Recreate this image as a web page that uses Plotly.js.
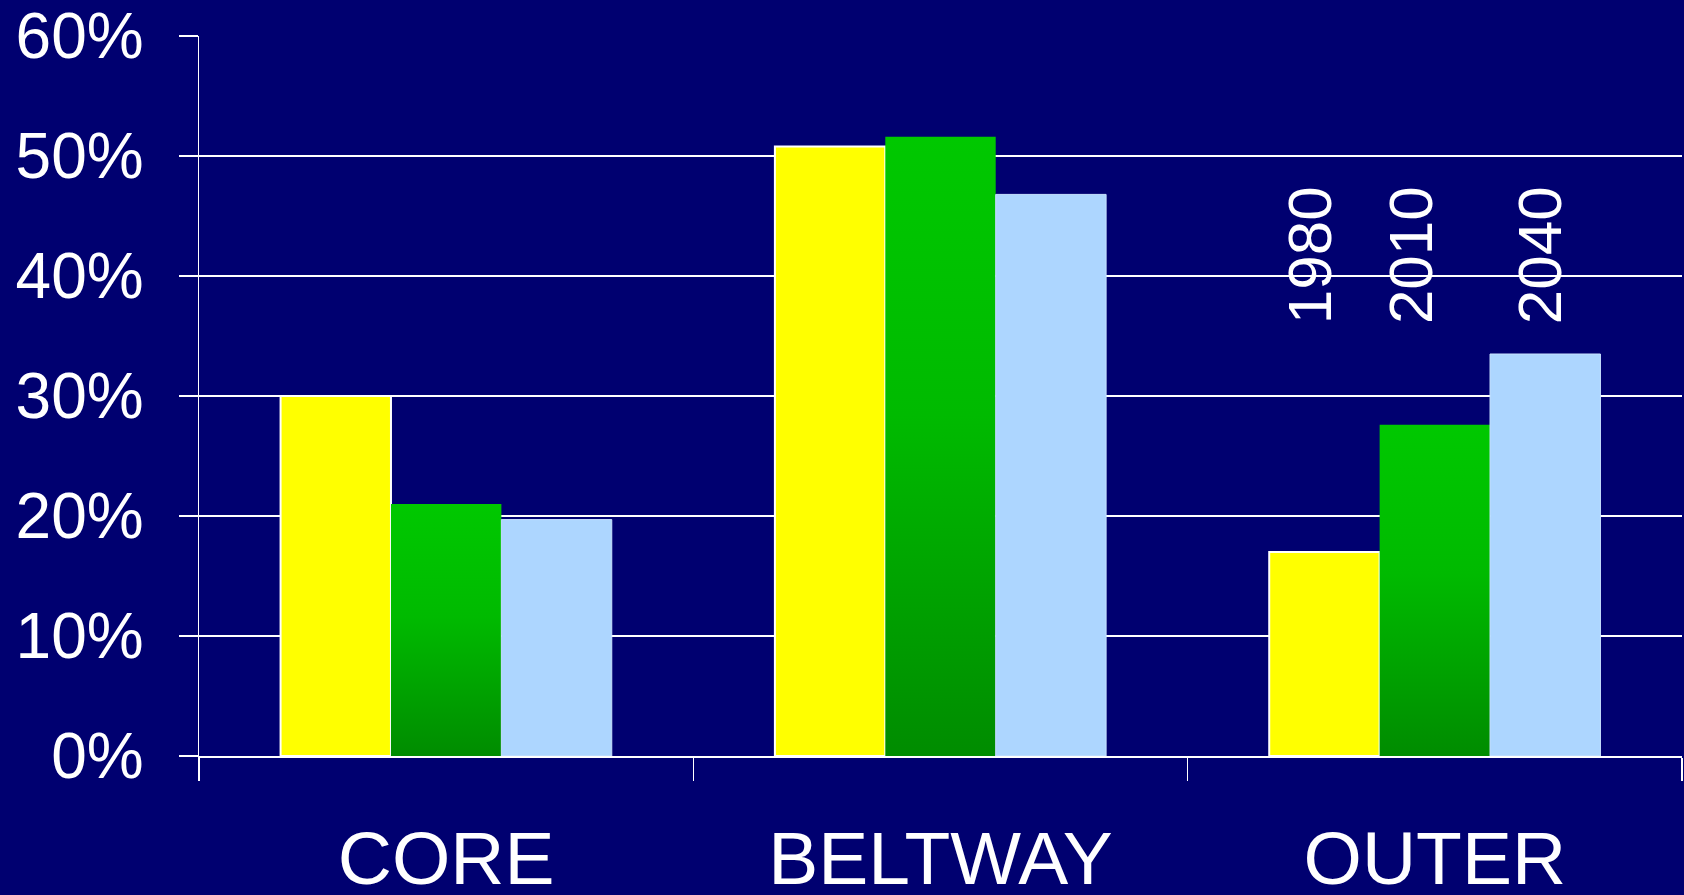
<!DOCTYPE html>
<html>
<head>
<meta charset="utf-8">
<script src="https://cdn.plot.ly/plotly-3.0.1.min.js"></script>
<style>
  html, body { margin: 0; padding: 0; background: #000070; }
  #chart { width: 1684px; height: 895px; }
</style>
</head>
<body>
<div id="chart"></div>
<script>
// ---- data ----
const categories = ["CORE", "BELTWAY", "OUTER"];
const seriesNames = ["1980", "2010", "2040"];
const values1980 = [30.0, 50.8, 17.0];
const values2010 = [21.0, 51.6, 27.6];
const values2040 = [19.7, 46.8, 33.5];
const yTickValues = [0, 10, 20, 30, 40, 50, 60];
const yTickLabels = ["0%", "10%", "20%", "30%", "40%", "50%", "60%"];

const bg = "#000070";
const font = "Liberation Sans, Arial, sans-serif";

const traces = [
  { type: "bar", name: seriesNames[0], x: categories, y: values1980,
    marker: { color: "#FFFF00", line: { color: "#FFFFFF", width: 2 } }, hoverinfo: "skip" },
  { type: "bar", name: seriesNames[1], x: categories, y: values2010,
    marker: { color: "#00B400", line: { width: 0 } }, hoverinfo: "skip" },
  { type: "bar", name: seriesNames[2], x: categories, y: values2040,
    marker: { color: "#ADD6FF", line: { color: "#C8E2FF", width: 1 } }, hoverinfo: "skip" }
];

// year labels placed above the OUTER group, rotated
const labelX = [1.746, 1.950, 2.211];
const annotations = seriesNames.map((s, i) => ({
  xref: "x", yref: "y", x: labelX[i], y: 41.75,
  text: s, showarrow: false, textangle: -90,
  xanchor: "center", yanchor: "middle",
  font: { family: font, size: 62, color: "#FFFFFF" }
}));

const layout = {
  width: 1684, height: 895,
  paper_bgcolor: bg, plot_bgcolor: bg,
  margin: { l: 199, r: 2, t: 36, b: 139, pad: 0 },
  showlegend: false,
  barmode: "group",
  bargap: 0.33,
  bargroupgap: 0,
  hovermode: false,
  xaxis: {
    type: "category",
    showgrid: false,
    zeroline: false,
    showline: true, linecolor: "#FFFFFF", linewidth: 2,
    ticks: "outside", tickson: "boundaries", ticklen: 23, tickwidth: 1.5, tickcolor: "#FFFFFF",
    tickfont: { family: font, size: 75, color: "#FFFFFF" },
    ticklabelstandoff: 36,
    automargin: false
  },
  yaxis: {
    range: [0, 60],
    tickmode: "array",
    tickvals: yTickValues,
    ticktext: yTickLabels,
    showgrid: true, gridcolor: "#FFFFFF", gridwidth: 1.5,
    zeroline: false,
    showline: true, linecolor: "#FFFFFF", linewidth: 1.5,
    ticks: "outside", ticklen: 19, tickwidth: 1.5, tickcolor: "#FFFFFF",
    tickfont: { family: font, size: 64, color: "#FFFFFF" },
    ticklabelstandoff: 22,
    automargin: false
  },
  annotations: annotations
};

Plotly.newPlot("chart", traces, layout, { displayModeBar: false, staticPlot: true }).then(() => {
  const svg = document.querySelector("#chart .main-svg");
  const ns = "http://www.w3.org/2000/svg";
  let defs = svg.querySelector("defs");
  if (!defs) { defs = document.createElementNS(ns, "defs"); svg.insertBefore(defs, svg.firstChild); }
  const grad = document.createElementNS(ns, "linearGradient");
  grad.setAttribute("id", "greenGrad");
  grad.setAttribute("x1", "0"); grad.setAttribute("y1", "0");
  grad.setAttribute("x2", "0"); grad.setAttribute("y2", "1");
  [["0", "#00C800"], ["0.45", "#00BA00"], ["1", "#008C00"]].forEach(([o, c]) => {
    const st = document.createElementNS(ns, "stop");
    st.setAttribute("offset", o); st.setAttribute("stop-color", c);
    grad.appendChild(st);
  });
  defs.appendChild(grad);
  const barTraces = document.querySelectorAll("#chart .barlayer .trace");
  if (barTraces[1]) {
    barTraces[1].querySelectorAll("path").forEach(p => { p.style.fill = "url(#greenGrad)"; });
  }
});
</script>
</body>
</html>
